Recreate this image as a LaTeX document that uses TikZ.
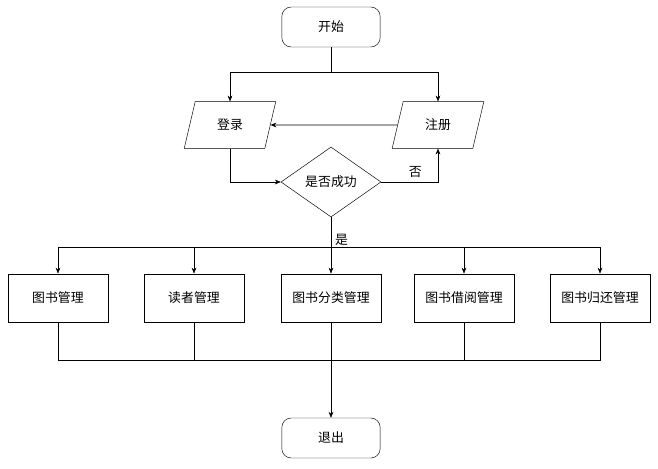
\documentclass[tikz,border=0pt]{standalone}
\usepackage{fontspec}
\newfontfamily\cjk{Noto Sans CJK SC}
\usetikzlibrary{shapes.geometric,arrows.meta}
\begin{document}
\begin{tikzpicture}[x=0.03cm,y=-0.03cm,
  every node/.style={font=\cjk\fontsize{11}{13}\selectfont},
  term/.style={draw,rounded corners=8pt,minimum width=2.95cm,minimum height=1.2cm,fill=white},
  io/.style={draw,trapezium,trapezium left angle=75,trapezium right angle=105,minimum width=2.75cm,minimum height=1.4cm,trapezium stretches=true,fill=white},
  proc/.style={draw,minimum width=3cm,minimum height=1.45cm,fill=white},
  dec/.style={draw,diamond,aspect=1.43,minimum width=3cm,minimum height=2.1cm,inner sep=0pt,fill=white},
  arr/.style={-{Stealth[length=5pt,width=4pt]}}]
\useasboundingbox (0,0) rectangle (658,469);
% Nodes
\node[term] (start) at (331,27) {开始};
\node[io] (login) at (230,125) {登录};
\node[io] (reg) at (438,125) {注册};
\node[dec] (ok) at (331,182) {是否成功};
\node[proc] (b1) at (58,298) {图书管理};
\node[proc] (b2) at (194,298) {读者管理};
\node[proc] (b3) at (331,298) {图书分类管理};
\node[proc] (b4) at (464,298) {图书借阅管理};
\node[proc] (b5) at (600,298) {图书归还管理};
\node[term] (exit) at (331,438) {退出};
% Connectors
\coordinate (top) at (331,72);
\coordinate (fork) at (331,247);
\coordinate (join) at (331,360);
\draw (start) -- (top);
\draw[arr] (top) -| (login);
\draw[arr] (top) -| (reg);
\draw[arr,line width=0.7pt] (reg) -- (login);
\draw[arr] (login) |- (ok);
\draw[arr] (ok) -| node[pos=0.3,above]{否} (reg);
\draw (ok) -- node[right,pos=0.75]{是} (fork);
\foreach \b in {b1,b2,b3,b4,b5}{
  \draw[arr] (fork) -| (\b);
  \draw (\b) |- (join);
}
\draw[arr] (join) -- (exit);
\end{tikzpicture}
\end{document}
